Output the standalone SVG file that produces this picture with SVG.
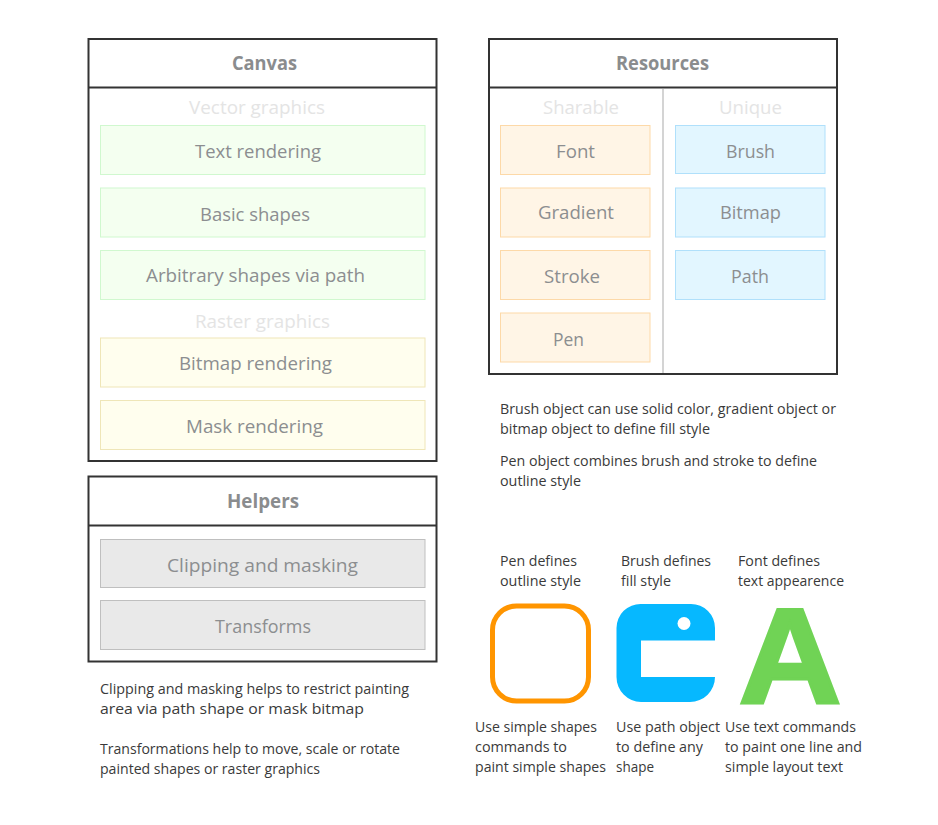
<svg xmlns="http://www.w3.org/2000/svg" width="938" height="825" viewBox="0 0 938 825">
<style>
text{font-family:"Open Sans","Noto Sans","Liberation Sans",sans-serif}
.frame{fill:#fff;stroke:#333;stroke-width:2}
.head{font-size:19px;font-weight:700;fill:#8a8c8e}
.sub{font-size:19px;fill:#e4e4e4}
.lab{font-size:19px;fill:#8c8e90}
.note{font-size:13.800px;fill:#3a3a3a}
.g{fill:#f4fff0;stroke:#d0f8cf}
.y{fill:#fffeee;stroke:#efe6b8}
.o{fill:#fff5e6;stroke:#fdd9a8}
.b{fill:#e2f6ff;stroke:#b0e0fb}
.s{fill:#e9e9e9;stroke:#bfbfbf}
</style>
<rect width="938" height="825" fill="#fff"/>
<g id="canvas">
<rect class="frame" x="88.500" y="39" width="348" height="422"/>
<line x1="88" y1="87.500" x2="437" y2="87.500" stroke="#333" stroke-width="2"/>
<text class="head" x="232" y="70" textLength="65" lengthAdjust="spacingAndGlyphs">Canvas</text>
<text class="sub" x="189" y="114" textLength="136" lengthAdjust="spacingAndGlyphs">Vector graphics</text>
<text class="sub" x="195" y="328" textLength="135" lengthAdjust="spacingAndGlyphs">Raster graphics</text>
</g>
<g id="text-rendering"><rect class="g" x="100.500" y="125.500" width="324.500" height="49"/><text class="lab" x="195" y="158" textLength="126" lengthAdjust="spacingAndGlyphs">Text rendering</text></g>
<g id="basic-shapes"><rect class="g" x="100.500" y="188" width="324.500" height="49"/><text class="lab" x="200" y="221" textLength="110" lengthAdjust="spacingAndGlyphs">Basic shapes</text></g>
<g id="arbitrary-shapes"><rect class="g" x="100.500" y="250.500" width="324.500" height="49"/><text class="lab" x="146" y="282" textLength="219" lengthAdjust="spacingAndGlyphs">Arbitrary shapes via path</text></g>
<g id="bitmap-rendering"><rect class="y" x="100.500" y="338" width="324.500" height="49"/><text class="lab" x="179" y="370" textLength="153" lengthAdjust="spacingAndGlyphs">Bitmap rendering</text></g>
<g id="mask-rendering"><rect class="y" x="100.500" y="400.500" width="324.500" height="49"/><text class="lab" x="186" y="433" textLength="137" lengthAdjust="spacingAndGlyphs">Mask rendering</text></g>

<g id="helpers">
<rect class="frame" x="88.500" y="476.500" width="348" height="185"/>
<line x1="88" y1="525.500" x2="437" y2="525.500" stroke="#333" stroke-width="2"/>
<text class="head" x="227" y="508" textLength="72" lengthAdjust="spacingAndGlyphs">Helpers</text>
</g>
<g id="clipping"><rect class="s" x="100.500" y="539.500" width="324.500" height="48"/><text class="lab" x="167" y="572" textLength="191" lengthAdjust="spacingAndGlyphs">Clipping and masking</text></g>
<g id="transforms"><rect class="s" x="100.500" y="600.500" width="324.500" height="49"/><text class="lab" x="215" y="633" textLength="96" lengthAdjust="spacingAndGlyphs">Transforms</text></g>

<g id="resources">
<rect class="frame" x="489" y="39" width="348" height="335"/>
<line x1="488" y1="87.500" x2="838" y2="87.500" stroke="#333" stroke-width="2"/>
<line x1="663" y1="89" x2="663" y2="373" stroke="#d4d4d4" stroke-width="2"/>
<text class="head" x="616" y="70" textLength="93" lengthAdjust="spacingAndGlyphs">Resources</text>
<text class="sub" x="543" y="113.500" textLength="76" lengthAdjust="spacingAndGlyphs">Sharable</text>
<text class="sub" x="719" y="113.500" textLength="63" lengthAdjust="spacingAndGlyphs">Unique</text>
</g>
<g id="font"><rect class="o" x="500.500" y="125.500" width="149.500" height="49"/><text class="lab" x="556" y="158" textLength="39" lengthAdjust="spacingAndGlyphs">Font</text></g>
<g id="gradient"><rect class="o" x="500.500" y="188" width="149.500" height="49"/><text class="lab" x="538" y="219" textLength="76" lengthAdjust="spacingAndGlyphs">Gradient</text></g>
<g id="stroke"><rect class="o" x="500.500" y="250.500" width="149.500" height="49"/><text class="lab" x="544" y="283" textLength="56" lengthAdjust="spacingAndGlyphs">Stroke</text></g>
<g id="pen"><rect class="o" x="500.500" y="313" width="149.500" height="49"/><text class="lab" x="553" y="346" textLength="31" lengthAdjust="spacingAndGlyphs">Pen</text></g>
<g id="brush"><rect class="b" x="675.500" y="125.500" width="149.500" height="48"/><text class="lab" x="726" y="158" textLength="49" lengthAdjust="spacingAndGlyphs">Brush</text></g>
<g id="bitmap"><rect class="b" x="675.500" y="188" width="149.500" height="49"/><text class="lab" x="720" y="219" textLength="61" lengthAdjust="spacingAndGlyphs">Bitmap</text></g>
<g id="path"><rect class="b" x="675.500" y="250.500" width="149.500" height="49"/><text class="lab" x="731" y="283" textLength="38" lengthAdjust="spacingAndGlyphs">Path</text></g>

<g id="notes">
<text class="note" x="500" y="414" textLength="336" lengthAdjust="spacingAndGlyphs">Brush object can use solid color, gradient object or</text>
<text class="note" x="500" y="434" textLength="210" lengthAdjust="spacingAndGlyphs">bitmap object to define fill style</text>
<text class="note" x="500" y="466" textLength="317" lengthAdjust="spacingAndGlyphs">Pen object combines brush and stroke to define</text>
<text class="note" x="500" y="486" textLength="81" lengthAdjust="spacingAndGlyphs">outline style</text>
<text class="note" x="100" y="694" textLength="309" lengthAdjust="spacingAndGlyphs">Clipping and masking helps to restrict painting</text>
<text class="note" x="100" y="714" textLength="264" lengthAdjust="spacingAndGlyphs">area via path shape or mask bitmap</text>
<text class="note" x="100" y="754" textLength="300" lengthAdjust="spacingAndGlyphs">Transformations help to move, scale or rotate</text>
<text class="note" x="100" y="774" textLength="220" lengthAdjust="spacingAndGlyphs">painted shapes or raster graphics</text>
<text class="note" x="500" y="566" textLength="77" lengthAdjust="spacingAndGlyphs">Pen defines</text>
<text class="note" x="500" y="586" textLength="81" lengthAdjust="spacingAndGlyphs">outline style</text>
<text class="note" x="621" y="566" textLength="90" lengthAdjust="spacingAndGlyphs">Brush defines</text>
<text class="note" x="621" y="586" textLength="50" lengthAdjust="spacingAndGlyphs">fill style</text>
<text class="note" x="738" y="566" textLength="82" lengthAdjust="spacingAndGlyphs">Font defines</text>
<text class="note" x="738" y="586" textLength="106" lengthAdjust="spacingAndGlyphs">text appearence</text>
<text class="note" x="475" y="732" textLength="122" lengthAdjust="spacingAndGlyphs">Use simple shapes</text>
<text class="note" x="475" y="752" textLength="92" lengthAdjust="spacingAndGlyphs">commands to</text>
<text class="note" x="475" y="772" textLength="131" lengthAdjust="spacingAndGlyphs">paint simple shapes</text>
<text class="note" x="616" y="732" textLength="104" lengthAdjust="spacingAndGlyphs">Use path object</text>
<text class="note" x="616" y="752" textLength="87" lengthAdjust="spacingAndGlyphs">to define any</text>
<text class="note" x="616" y="772" textLength="38" lengthAdjust="spacingAndGlyphs">shape</text>
<text class="note" x="725" y="732" textLength="131" lengthAdjust="spacingAndGlyphs">Use text commands</text>
<text class="note" x="725" y="752" textLength="137" lengthAdjust="spacingAndGlyphs">to paint one line and</text>
<text class="note" x="725" y="772" textLength="118" lengthAdjust="spacingAndGlyphs">simple layout text</text>
</g>

<g id="pen-icon"><rect x="492.500" y="606" width="96" height="95" rx="24" fill="#fff" stroke="#ff9500" stroke-width="5"/></g>
<g id="brush-icon"><path d="M641 604H691A24 24 0 0 1 715 628V640.500H641V677H715A25 25 0 0 1 690 702H641A25 25 0 0 1 616.500 677V628A24 24 0 0 1 641 604Z" fill="#06b8ff"/><circle cx="684" cy="623.500" r="6.500" fill="#fff"/></g>
<g id="font-icon"><text x="738.400" y="702.500" font-size="135.500" font-weight="700" fill="#70d355" stroke="#70d355" stroke-width="3" style="font-family:'Liberation Sans',Arial,sans-serif" textLength="103" lengthAdjust="spacingAndGlyphs">A</text></g>
</svg>
